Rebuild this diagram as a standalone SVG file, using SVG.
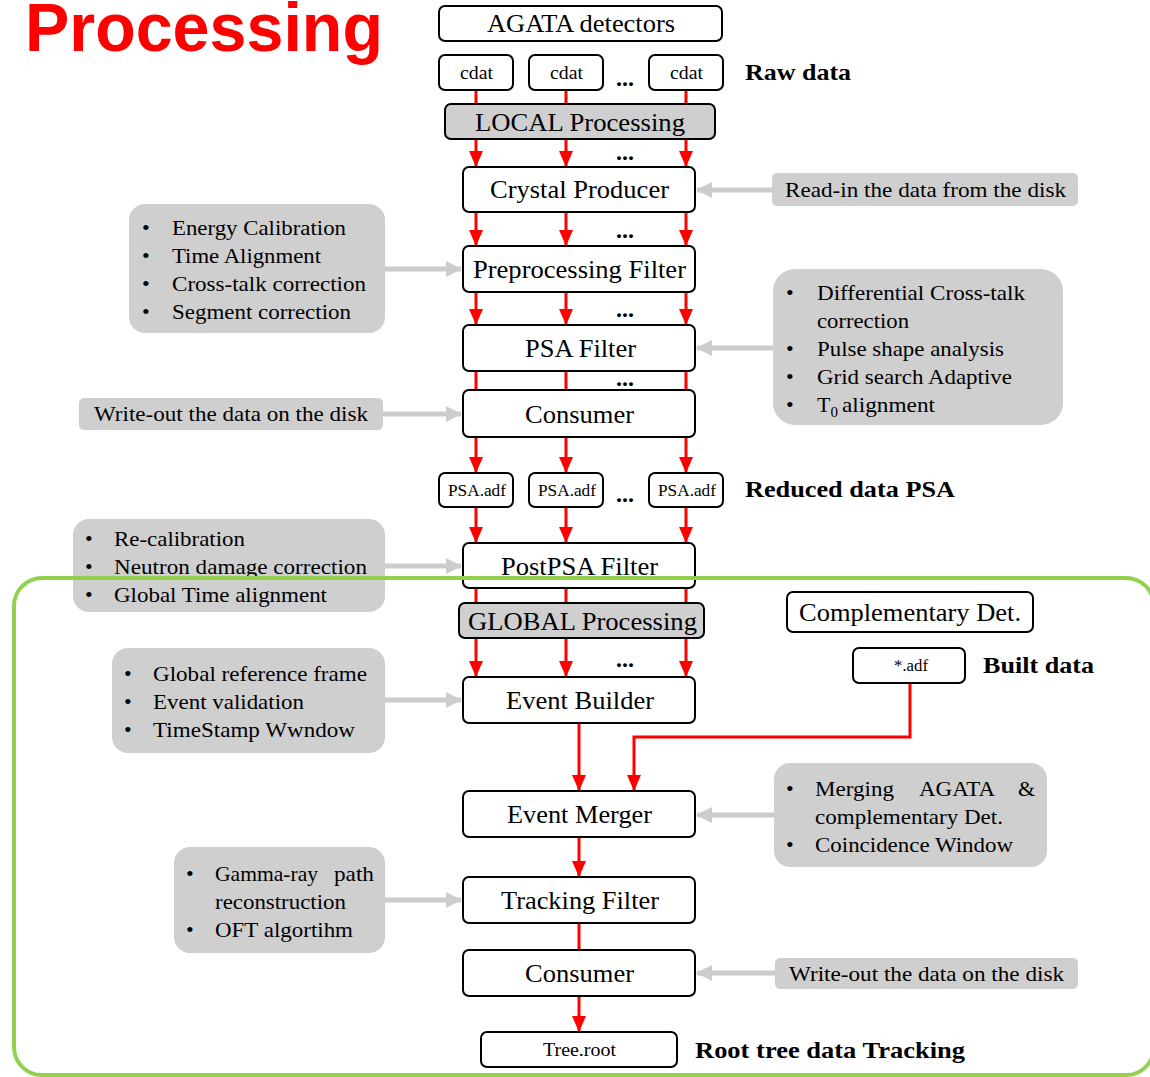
<svg xmlns="http://www.w3.org/2000/svg" width="1150" height="1077" viewBox="0 0 1150 1077">
<defs>
<marker id="ra" markerWidth="16" markerHeight="14" refX="15" refY="7" orient="auto" markerUnits="userSpaceOnUse"><path d="M0,0 L16,7 L0,14 Z" fill="#ff0000"/></marker>
<marker id="ga" markerWidth="16" markerHeight="16" refX="15" refY="8" orient="auto" markerUnits="userSpaceOnUse"><path d="M0,0 L16,8 L0,16 Z" fill="#cccccc"/></marker>
</defs>
<style>
.n{fill:#fff;stroke:#000;stroke-width:2}
.p{fill:#d0cfcf;stroke:#000;stroke-width:2}
.g{fill:#d0cfcf;stroke:none}
text{font-family:"Liberation Serif",serif;fill:#000}
text.title{font-family:"Liberation Sans",sans-serif;fill:#ff0000;font-weight:bold}
.c{text-anchor:middle}
.b{font-weight:bold}
.r{stroke:#ff0000;stroke-width:3;fill:none}
.ra{stroke:#ff0000;stroke-width:3;fill:none;marker-end:url(#ra)}
.gr{stroke:#cccccc;stroke-width:5;fill:none;marker-end:url(#ga)}
</style>
<rect width="1150" height="1077" fill="#fff"/>
<text class="title" x="25" y="51" font-size="69" textLength="358" lengthAdjust="spacingAndGlyphs">Processing</text>

<g id="connectors">
<path class="r" d="M476,90 V104 M566,90 V104 M686,90 V104"/>
<path class="ra" d="M476,139 V166"/><path class="ra" d="M566,139 V166"/><path class="ra" d="M686,139 V166"/>
<path class="ra" d="M476,212 V245"/><path class="ra" d="M566,212 V245"/><path class="ra" d="M686,212 V245"/>
<path class="ra" d="M476,292 V324"/><path class="ra" d="M566,292 V324"/><path class="ra" d="M686,292 V324"/>
<path class="r" d="M476,371 V390 M566,371 V390 M686,371 V390"/>
<path class="ra" d="M476,437 V472"/><path class="ra" d="M566,437 V472"/><path class="ra" d="M686,437 V472"/>
<path class="ra" d="M476,507 V542"/><path class="ra" d="M566,507 V542"/><path class="ra" d="M686,507 V542"/>
<path class="r" d="M476,588 V603 M566,588 V603 M686,588 V603"/>
<path class="ra" d="M476,638 V676"/><path class="ra" d="M566,638 V676"/><path class="ra" d="M686,638 V676"/>
<path class="ra" d="M579,723 V790"/>
<path class="ra" d="M910,683 V737 H634 V790"/>
<path class="ra" d="M579,837 V876"/>
<path class="r" d="M579,923 V950"/>
<path class="ra" d="M579,996 V1031"/>
<path class="gr" d="M772,190 H697"/>
<path class="gr" d="M385,269 H461"/>
<path class="gr" d="M773,348 H697"/>
<path class="gr" d="M383,414 H461"/>
<path class="gr" d="M385,566 H461"/>
<path class="gr" d="M385,700 H461"/>
<path class="gr" d="M774,815 H697"/>
<path class="gr" d="M385,900 H461"/>
<path class="gr" d="M775,973 H697"/>
</g>

<g id="agata"><rect class="n" x="439" y="6" width="283" height="35" rx="6"/><text x="487" y="32" font-size="25" textLength="188" lengthAdjust="spacingAndGlyphs">AGATA detectors</text></g>
<g id="cdat1"><rect class="n" x="439" y="55" width="74" height="35" rx="6"/><text x="460" y="79" font-size="19" textLength="33" lengthAdjust="spacingAndGlyphs">cdat</text></g>
<g id="cdat2"><rect class="n" x="529" y="55" width="74" height="35" rx="6"/><text x="550" y="79" font-size="19" textLength="33" lengthAdjust="spacingAndGlyphs">cdat</text></g>
<g id="cdat3"><rect class="n" x="649" y="55" width="74" height="35" rx="6"/><text x="670" y="79" font-size="19" textLength="33" lengthAdjust="spacingAndGlyphs">cdat</text></g>
<g id="dots"><text class="c b" font-size="24" x="625" y="86">...</text><text class="c b" font-size="24" x="625" y="160">...</text><text class="c b" font-size="24" x="625" y="238">...</text><text class="c b" font-size="24" x="625" y="317">...</text><text class="c b" font-size="24" x="625" y="386">...</text><text class="c b" font-size="24" x="625" y="502">...</text><text class="c b" font-size="24" x="625" y="667">...</text></g>
<g id="rawlabel"><text class="b" x="745" y="80" font-size="23" textLength="106" lengthAdjust="spacingAndGlyphs">Raw data</text></g>
<g id="local"><rect class="p" x="445" y="104" width="270" height="35" rx="6"/><text x="475" y="131" font-size="26" textLength="210" lengthAdjust="spacingAndGlyphs">LOCAL Processing</text></g>
<g id="crystal"><rect class="n" x="463" y="167" width="232" height="45" rx="6"/><text x="490" y="198" font-size="25" textLength="179" lengthAdjust="spacingAndGlyphs">Crystal Producer</text></g>
<g id="readin"><rect class="g" x="772" y="173" width="306" height="33" rx="5"/><text x="785" y="197" font-size="21" textLength="281" lengthAdjust="spacingAndGlyphs">Read-in the data from the disk</text></g>
<g id="preproc"><rect class="n" x="463" y="246" width="232" height="46" rx="6"/><text x="473" y="278" font-size="25" textLength="213" lengthAdjust="spacingAndGlyphs">Preprocessing Filter</text></g>
<g id="energy"><rect class="g" x="129" y="204" width="256" height="129" rx="16"/>
<text font-size="22"><tspan x="142" y="235">•</tspan><tspan x="172" y="235" textLength="174" lengthAdjust="spacingAndGlyphs">Energy Calibration</tspan><tspan x="142" y="263">•</tspan><tspan x="172" y="263" textLength="149" lengthAdjust="spacingAndGlyphs">Time Alignment</tspan><tspan x="142" y="291">•</tspan><tspan x="172" y="291" textLength="194" lengthAdjust="spacingAndGlyphs">Cross-talk correction</tspan><tspan x="142" y="319">•</tspan><tspan x="172" y="319" textLength="179" lengthAdjust="spacingAndGlyphs">Segment correction</tspan></text></g>
<g id="psa"><rect class="n" x="463" y="325" width="232" height="46" rx="6"/><text x="525" y="357" font-size="25" textLength="111" lengthAdjust="spacingAndGlyphs">PSA Filter</text></g>
<g id="diff"><rect class="g" x="773" y="269" width="290" height="156" rx="22"/>
<text font-size="22"><tspan x="786" y="300">•</tspan><tspan x="817" y="300" textLength="208" lengthAdjust="spacingAndGlyphs">Differential Cross-talk</tspan><tspan x="817" y="328" textLength="92" lengthAdjust="spacingAndGlyphs">correction</tspan><tspan x="786" y="356">•</tspan><tspan x="817" y="356" textLength="187" lengthAdjust="spacingAndGlyphs">Pulse shape analysis</tspan><tspan x="786" y="384">•</tspan><tspan x="817" y="384" textLength="195" lengthAdjust="spacingAndGlyphs">Grid search Adaptive</tspan><tspan x="786" y="412">•</tspan><tspan x="817" y="412">T</tspan><tspan font-size="15" dy="5">0</tspan><tspan x="842" y="412" textLength="93" lengthAdjust="spacingAndGlyphs">alignment</tspan></text></g>
<g id="consumer1"><rect class="n" x="463" y="390" width="232" height="47" rx="6"/><text x="525" y="423" font-size="25" textLength="109" lengthAdjust="spacingAndGlyphs">Consumer</text></g>
<g id="writeout1"><rect class="g" x="79" y="398" width="304" height="32" rx="5"/><text x="94" y="421" font-size="21" textLength="274" lengthAdjust="spacingAndGlyphs">Write-out the data on the disk</text></g>
<g id="psaadf1"><rect class="n" x="439" y="473" width="74" height="34" rx="6"/><text x="448" y="496" font-size="17" textLength="58" lengthAdjust="spacingAndGlyphs">PSA.adf</text></g>
<g id="psaadf2"><rect class="n" x="529" y="473" width="74" height="34" rx="6"/><text x="538" y="496" font-size="17" textLength="58" lengthAdjust="spacingAndGlyphs">PSA.adf</text></g>
<g id="psaadf3"><rect class="n" x="649" y="473" width="74" height="34" rx="6"/><text x="658" y="496" font-size="17" textLength="58" lengthAdjust="spacingAndGlyphs">PSA.adf</text></g>
<g id="reducedlabel"><text class="b" x="745" y="497" font-size="23" textLength="210" lengthAdjust="spacingAndGlyphs">Reduced data PSA</text></g>
<g id="postpsa"><rect class="n" x="463" y="543" width="232" height="45" rx="6"/><text x="501" y="575" font-size="25" textLength="157" lengthAdjust="spacingAndGlyphs">PostPSA Filter</text></g>
<g id="recal"><rect class="g" x="73" y="519" width="312" height="93" rx="16"/>
<text font-size="22"><tspan x="85" y="546">•</tspan><tspan x="114" y="546" textLength="131" lengthAdjust="spacingAndGlyphs">Re-calibration</tspan><tspan x="85" y="574">•</tspan><tspan x="114" y="574" textLength="253" lengthAdjust="spacingAndGlyphs">Neutron damage correction</tspan><tspan x="85" y="602">•</tspan><tspan x="114" y="602" textLength="213" lengthAdjust="spacingAndGlyphs">Global Time alignment</tspan></text></g>
<g id="global"><rect class="p" x="459" y="603" width="245" height="35" rx="6"/><text x="468" y="630" font-size="26" textLength="229" lengthAdjust="spacingAndGlyphs">GLOBAL Processing</text></g>
<g id="compdet"><rect class="n" x="787" y="592" width="246" height="40" rx="6"/><text x="799" y="621" font-size="25" textLength="222" lengthAdjust="spacingAndGlyphs">Complementary Det.</text></g>
<g id="adf"><rect class="n" x="853" y="648" width="112" height="35" rx="6"/><text x="894" y="671" font-size="17" textLength="34" lengthAdjust="spacingAndGlyphs">*.adf</text></g>
<g id="builtlabel"><text class="b" x="983" y="673" font-size="23" textLength="111" lengthAdjust="spacingAndGlyphs">Built data</text></g>
<g id="eventbuilder"><rect class="n" x="463" y="677" width="232" height="46" rx="6"/><text x="506" y="709" font-size="25" textLength="148" lengthAdjust="spacingAndGlyphs">Event Builder</text></g>
<g id="globalref"><rect class="g" x="112" y="648" width="273" height="105" rx="16"/>
<text font-size="22"><tspan x="124" y="681">•</tspan><tspan x="153" y="681" textLength="214" lengthAdjust="spacingAndGlyphs">Global reference frame</tspan><tspan x="124" y="709">•</tspan><tspan x="153" y="709" textLength="151" lengthAdjust="spacingAndGlyphs">Event validation</tspan><tspan x="124" y="737">•</tspan><tspan x="153" y="737" textLength="202" lengthAdjust="spacingAndGlyphs">TimeStamp Wwndow</tspan></text></g>
<g id="eventmerger"><rect class="n" x="463" y="791" width="232" height="46" rx="6"/><text x="507" y="823" font-size="25" textLength="145" lengthAdjust="spacingAndGlyphs">Event Merger</text></g>
<g id="merging"><rect class="g" x="774" y="763" width="273" height="104" rx="16"/>
<text font-size="22"><tspan x="786" y="796">•</tspan><tspan x="815" y="796" textLength="79" lengthAdjust="spacingAndGlyphs">Merging</tspan><tspan x="919" y="796" textLength="76" lengthAdjust="spacingAndGlyphs">AGATA</tspan><tspan x="1018" y="796">&amp;</tspan><tspan x="815" y="824" textLength="188" lengthAdjust="spacingAndGlyphs">complementary Det.</tspan><tspan x="786" y="852">•</tspan><tspan x="815" y="852" textLength="198" lengthAdjust="spacingAndGlyphs">Coincidence Window</tspan></text></g>
<g id="tracking"><rect class="n" x="463" y="877" width="232" height="46" rx="6"/><text x="501" y="909" font-size="25" textLength="158" lengthAdjust="spacingAndGlyphs">Tracking Filter</text></g>
<g id="gamma"><rect class="g" x="174" y="847" width="211" height="106" rx="16"/>
<text font-size="22"><tspan x="186" y="881">•</tspan><tspan x="215" y="881" textLength="103" lengthAdjust="spacingAndGlyphs">Gamma-ray</tspan><tspan x="334" y="881" textLength="40" lengthAdjust="spacingAndGlyphs">path</tspan><tspan x="215" y="909" textLength="131" lengthAdjust="spacingAndGlyphs">reconstruction</tspan><tspan x="186" y="937">•</tspan><tspan x="215" y="937" textLength="138" lengthAdjust="spacingAndGlyphs">OFT algortihm</tspan></text></g>
<g id="consumer2"><rect class="n" x="463" y="950" width="232" height="46" rx="6"/><text x="525" y="982" font-size="25" textLength="109" lengthAdjust="spacingAndGlyphs">Consumer</text></g>
<g id="writeout2"><rect class="g" x="775" y="958" width="303" height="31" rx="5"/><text x="789" y="981" font-size="21" textLength="275" lengthAdjust="spacingAndGlyphs">Write-out the data on the disk</text></g>
<g id="treeroot"><rect class="n" x="481" y="1032" width="196" height="35" rx="6"/><text x="543" y="1056" font-size="18" textLength="73" lengthAdjust="spacingAndGlyphs">Tree.root</text></g>
<g id="rootlabel"><text class="b" x="695" y="1058" font-size="23" textLength="270" lengthAdjust="spacingAndGlyphs">Root tree data Tracking</text></g>
<g id="globalregion"><rect x="14" y="578" width="1140" height="497" rx="28" fill="none" stroke="#92d050" stroke-width="4"/></g>
</svg>
